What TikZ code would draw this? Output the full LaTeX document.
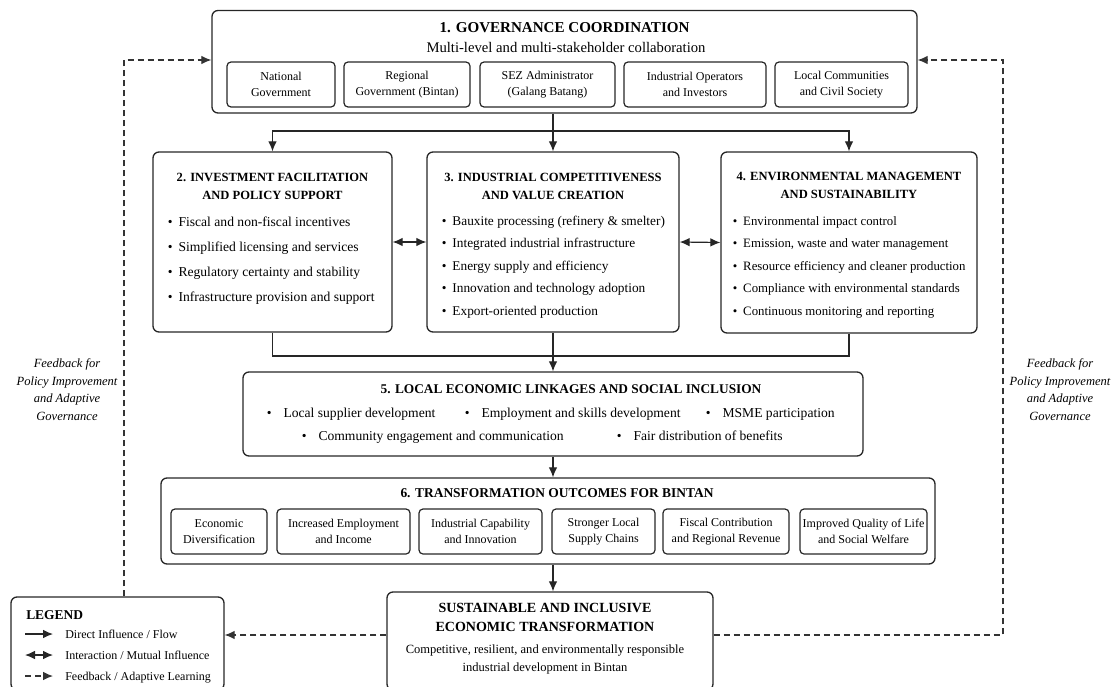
\documentclass[tikz,border=0pt]{standalone}
\usepackage{fontspec}
\setmainfont{Liberation Serif}
\usetikzlibrary{arrows.meta,fit,positioning}

\begin{document}
\begin{tikzpicture}[x=0.75pt,y=0.75pt,yscale=-1,xscale=1,
  box/.style={draw=black!85,line width=1pt,rounded corners=4.5pt,inner sep=0pt},
  subbox/.style 2 args={draw=black!85,line width=0.9pt,rounded corners=3pt,inner sep=0pt,align=center,
    minimum width=#1*0.75pt,minimum height=#2*0.75pt,font=\fontsize{9}{12.4}\selectfont},
  ttl/.style={inner sep=0pt,align=center,font=\fontsize{9.4}{13.5}\selectfont\bfseries},
  item/.style={inner sep=0pt,anchor=base west,font=\fontsize{10.2}{12}\selectfont},
  link/.style={draw=black!85,line width=0.9pt},
  flow/.style={link,-{Latex[length=7.5pt,width=6.5pt]}},
  mutual/.style={link,{Latex[length=7.5pt,width=6.5pt]}-{Latex[length=7.5pt,width=6.5pt]}},
  fback/.style={draw=black!80,line width=0.9pt,dash pattern=on 4.5pt off 3pt,-{Latex[length=7.5pt,width=6.5pt]}}]
\useasboundingbox (0,0) rectangle (1117,686);

%Shape: Rounded Rectangle (governance)
\node[box,fit={(212,10.5) (917,113)}] (gov) {};
% Text Node
\node[ttl,font=\fontsize{11.3}{14}\selectfont\bfseries] (govT) at (564.5,28) {1. GOVERNANCE COORDINATION};
% Text Node
\node[inner sep=0pt,font=\fontsize{11}{13}\selectfont] (govS) at (566,47) {Multi-level and multi-stakeholder collaboration};
%Shape: Rectangle (actors)
\node[subbox={108}{45}] (natG) at (281,84.5) {National\\Government};
\node[subbox={126}{45}] (regG) at (407,84.5) {Regional\\Government (Bintan)};
\node[subbox={135}{45}] (sezA) at (547.5,84.5) {SEZ Administrator\\(Galang Batang)};
\node[subbox={142}{45}] (indO) at (695,84.5) {Industrial Operators\\and Investors};
\node[subbox={133}{45}] (locC) at (841.5,84.5) {Local Communities\\and Civil Society};

%Shape: Rounded Rectangle (investment)
\node[box,fit={(153,152) (392,332)}] (inv) {};
% Text Node
\node[ttl] (invT) at (272.5,186) {2. INVESTMENT FACILITATION\\AND POLICY SUPPORT};
\node[item] (inv1) at (167.5,226) {•\hspace{4.5pt}Fiscal and non-fiscal incentives};
\node[item] (inv2) at (167.5,251) {•\hspace{4.5pt}Simplified licensing and services};
\node[item] (inv3) at (167.5,276) {•\hspace{4.5pt}Regulatory certainty and stability};
\node[item] (inv4) at (167.5,301) {•\hspace{4.5pt}Infrastructure provision and support};

%Shape: Rounded Rectangle (industry)
\node[box,fit={(427,152) (679,332)}] (ind) {};
% Text Node
\node[ttl] (indT) at (553,186) {3. INDUSTRIAL COMPETITIVENESS\\AND VALUE CREATION};
\node[item,font=\fontsize{10}{12}\selectfont] (ind1) at (441.5,225) {•\hspace{4.5pt}Bauxite processing (refinery \& smelter)};
\node[item,font=\fontsize{10}{12}\selectfont] (ind2) at (441.5,247.5) {•\hspace{4.5pt}Integrated industrial infrastructure};
\node[item,font=\fontsize{10}{12}\selectfont] (ind3) at (441.5,270) {•\hspace{4.5pt}Energy supply and efficiency};
\node[item,font=\fontsize{10}{12}\selectfont] (ind4) at (441.5,292.5) {•\hspace{4.5pt}Innovation and technology adoption};
\node[item,font=\fontsize{10}{12}\selectfont] (ind5) at (441.5,315) {•\hspace{4.5pt}Export-oriented production};

%Shape: Rounded Rectangle (environment)
\node[box,fit={(721,152) (977,333)}] (env) {};
% Text Node
\node[ttl] (envT) at (849,185.5) {4. ENVIRONMENTAL MANAGEMENT\\AND SUSTAINABILITY};
\node[item,font=\fontsize{9.6}{12}\selectfont] (env1) at (732.5,225) {•\hspace{4.5pt}Environmental impact control};
\node[item,font=\fontsize{9.6}{12}\selectfont] (env2) at (732.5,247.5) {•\hspace{4.5pt}Emission, waste and water management};
\node[item,font=\fontsize{9.6}{12}\selectfont] (env3) at (732.5,270) {•\hspace{4.5pt}Resource efficiency and cleaner production};
\node[item,font=\fontsize{9.6}{12}\selectfont] (env4) at (732.5,292.5) {•\hspace{4.5pt}Compliance with environmental standards};
\node[item,font=\fontsize{9.6}{12}\selectfont] (env5) at (732.5,315) {•\hspace{4.5pt}Continuous monitoring and reporting};

%Shape: Rounded Rectangle (linkages)
\node[box,fit={(243,372) (863,456)}] (lnk) {};
% Text Node
\node[ttl,font=\fontsize{10}{13}\selectfont\bfseries] (lnkT) at (571,389) {5. LOCAL ECONOMIC LINKAGES AND SOCIAL INCLUSION};
\node[item] (lnk1) at (266.5,417) {•\hspace{9pt}Local supplier development};
\node[item] (lnk2) at (464.5,417) {•\hspace{9pt}Employment and skills development};
\node[item] (lnk3) at (705.5,417) {•\hspace{9pt}MSME participation};
\node[item] (lnk4) at (301.5,440) {•\hspace{9pt}Community engagement and communication};
\node[item] (lnk5) at (616.5,440) {•\hspace{9pt}Fair distribution of benefits};

%Shape: Rounded Rectangle (outcomes)
\node[box,fit={(161,478) (935,564)}] (outc) {};
% Text Node
\node[ttl,font=\fontsize{10.1}{13}\selectfont\bfseries] (outcT) at (557,493) {6. TRANSFORMATION OUTCOMES FOR BINTAN};
%Shape: Rectangle (outcome items)
\node[subbox={96}{45}] (econ) at (219,531.5) {Economic\\Diversification};
\node[subbox={133}{45}] (empl) at (343.5,531.5) {Increased Employment\\and Income};
\node[subbox={123}{45}] (capa) at (480.5,531.5) {Industrial Capability\\and Innovation};
\node[subbox={103}{45}] (supp) at (603.5,531.5) {Stronger Local\\Supply Chains};
\node[subbox={126}{45}] (fisc) at (726,531.5) {Fiscal Contribution\\and Regional Revenue};
\node[subbox={127}{45}] (qual) at (863.5,531.5) {Improved Quality of Life\\and Social Welfare};

%Shape: Rounded Rectangle (goal)
\node[box,fit={(387,592) (713,690)}] (sust) {};
% Text Node
\node[ttl,font=\fontsize{10.5}{14.25}\selectfont\bfseries] (sustT) at (545,617.5) {SUSTAINABLE AND INCLUSIVE\\ECONOMIC TRANSFORMATION};
\node[inner sep=0pt,align=center,font=\fontsize{9.4}{13.5}\selectfont] (sustS) at (545,659) {Competitive, resilient, and environmentally responsible\\industrial development in Bintan};

%Shape: Rounded Rectangle (legend)
\node[box,fit={(11,597) (224,690)}] (leg) {};
% Text Node
\node[inner sep=0pt,anchor=base west,font=\fontsize{10.1}{12}\selectfont\bfseries] (legT) at (26,619) {LEGEND};
\coordinate (lg1a) at (25,634); \coordinate (lg1b) at (53,634);
\coordinate (lg2a) at (25,655); \coordinate (lg2b) at (53,655);
\coordinate (lg3a) at (25,676); \coordinate (lg3b) at (53,676);
\draw[flow] (lg1a) -- (lg1b);
\draw[mutual] (lg2a) -- (lg2b);
\draw[fback] (lg3a) -- (lg3b);
\node[inner sep=0pt,anchor=base west,font=\fontsize{9}{11}\selectfont] (leg1) at (65,638) {Direct Influence / Flow};
\node[inner sep=0pt,anchor=base west,font=\fontsize{9}{11}\selectfont] (leg2) at (65,659) {Interaction / Mutual Influence};
\node[inner sep=0pt,anchor=base west,font=\fontsize{9}{11}\selectfont] (leg3) at (65,680) {Feedback / Adaptive Learning};

% Text Node (feedback labels)
\node[inner sep=0pt,align=center,font=\fontsize{9.4}{13.25}\selectfont\itshape] (fbTl) at (67,389.5) {Feedback for\\Policy Improvement\\and Adaptive\\Governance};
\node[inner sep=0pt,align=center,font=\fontsize{9.4}{13.25}\selectfont\itshape] (fbTr) at (1060,389.5) {Feedback for\\Policy Improvement\\and Adaptive\\Governance};

%Straight Lines (governance to pillars)
\coordinate (j1) at (553,131);
\draw[link] (gov.south -| j1) -- (j1);
\draw[flow] (j1) -| (inv.north);
\draw[flow] (j1) -- (ind.north);
\draw[flow] (j1) -| (env.north);
%Straight Lines (interaction)
\draw[mutual] (inv.east) -- (ind.west);
\draw[mutual] (ind.east) -- (env.west);
%Straight Lines (pillars to linkages)
\coordinate (j2) at (553,356);
\draw[link] (inv.south) |- (j2);
\draw[link] (env.south) |- (j2);
\draw[flow] (ind.south) -- (lnk.north);
\draw[flow] (lnk.south) -- (lnk.south |- outc.north);
\draw[flow] (lnk.south |- outc.south) -- (lnk.south |- sust.north);

%Straight Lines (feedback loops)
\coordinate (fbl) at (124,60);
\coordinate (fbr) at (1003,60);
\coordinate (fbb) at (1003,635);
\draw[fback] (leg.north -| fbl) -- (fbl) -- (fbl -| gov.west);
\draw[fback] (sust.east |- fbb) -- (fbb) -- (fbr) -- (fbr -| gov.east);
\draw[fback] (sust.west |- fbb) -- (fbb -| leg.east);

\end{tikzpicture}
\end{document}
